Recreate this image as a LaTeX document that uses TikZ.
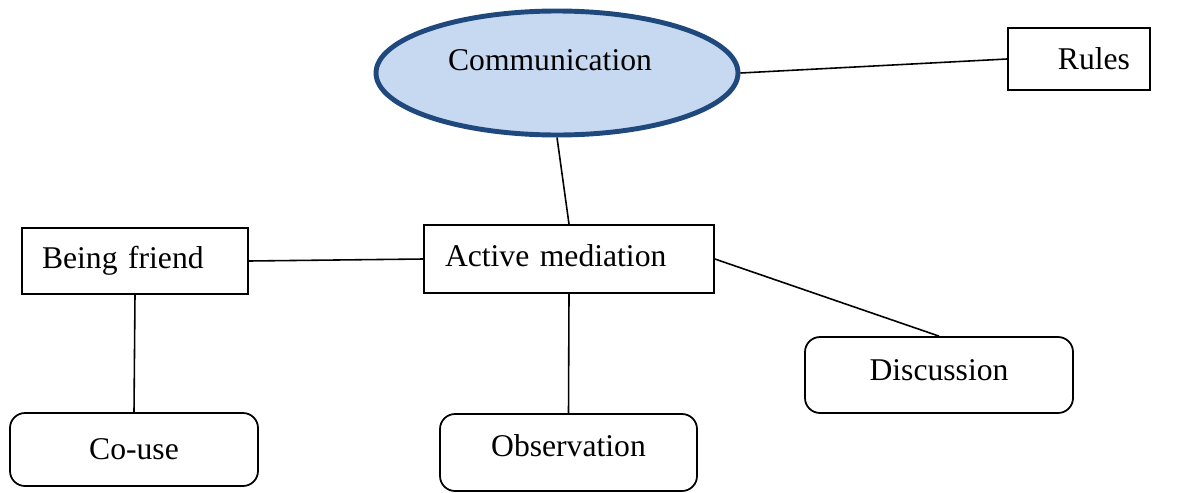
\documentclass[tikz,border=0pt]{standalone}
\usepackage{fontspec}
\setmainfont{Liberation Serif}
\usepackage{xcolor}
\usetikzlibrary{shapes.geometric}
\definecolor{ovalfill}{HTML}{C6D9F1}
\definecolor{ovaldraw}{HTML}{1F497D}

\begin{document}
\begin{tikzpicture}[
		every node/.style={font=\fontsize{18}{22}\selectfont},
		box/.style={draw,line width=1pt,inner sep=0pt},
		roundbox/.style={box,rounded corners=0.3cm,align=center},
		link/.style={line width=0.9pt}]
			\useasboundingbox (0,0) rectangle (23.74,-9.84);
			\node[ellipse,draw=ovaldraw,fill=ovalfill,line width=2.8pt,minimum width=7.24cm,minimum height=2.48cm,
				label={[name=commtext,xshift=-0.14cm,yshift=0.26cm]center:Communication}](comm) at (11.14,-1.46){};
			\node[box,minimum width=2.84cm,minimum height=1.24cm,text width=2.04cm,align=right](rules) at (21.58,-1.18){Rules};
			\node[box,minimum width=4.52cm,minimum height=1.32cm,text width=3.72cm,align=left](being) at (2.70,-5.22){Being friend};
			\node[box,minimum width=5.80cm,minimum height=1.36cm,text width=4.96cm,align=left,text depth=0.12cm](act) at (11.38,-5.18){Active mediation};
			\node[roundbox,minimum width=5.36cm,minimum height=1.52cm,text depth=0.2cm](disc) at (18.78,-7.50){Discussion};
			\node[roundbox,minimum width=4.96cm,minimum height=1.46cm](couse) at (2.68,-8.99){Co-use};
			\node[roundbox,minimum width=5.14cm,minimum height=1.54cm,text depth=0.28cm](obs) at (11.37,-9.05){Observation};
			\draw[link](comm.east)--(rules.west);
			\draw[link](comm.south)--(act.north);
			\draw[link](being.east)--(act.west);
			\draw[link](being.south)--(couse.north);
			\draw[link](act.south)--(obs.north);
			\draw[link](act.east)--(disc.north);
		\end{tikzpicture}
\end{document}
